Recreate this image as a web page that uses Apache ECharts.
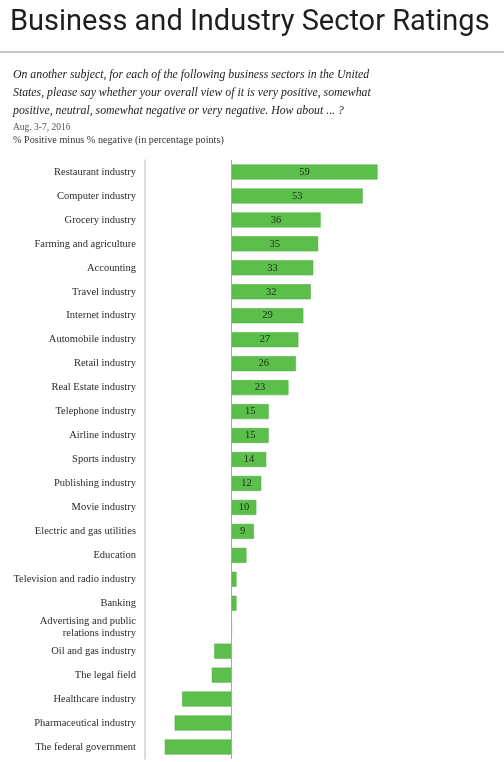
<!DOCTYPE html>
<html>
<head>
<meta charset="utf-8">
<script src="https://cdn.jsdelivr.net/npm/echarts@6/dist/echarts.min.js"></script>
<style>
  html, body { margin: 0; padding: 0; background: #fff; }
  #chart { width: 504px; height: 762px; }
</style>
</head>
<body>
<div id="chart"></div>
<script>
// Sector names, top to bottom as in the picture
const sectors = [
    'Restaurant industry', 'Computer industry', 'Grocery industry', 'Farming and agriculture',
    'Accounting', 'Travel industry', 'Internet industry', 'Automobile industry',
    'Retail industry', 'Real Estate industry', 'Telephone industry', 'Airline industry',
    'Sports industry', 'Publishing industry', 'Movie industry', 'Electric and gas utilities',
    'Education', 'Television and radio industry', 'Banking',
    'Advertising and public\nrelations industry', 'Oil and gas industry', 'The legal field',
    'Healthcare industry', 'Pharmaceutical industry', 'The federal government'
];

// % positive minus % negative
const netRatings = [
    59, 53, 36, 35, 33, 32, 29, 27, 26, 23, 15, 15, 14, 12, 10, 9,
    6, 2, 2, 0, -7, -8, -20, -23, -27
];

const questionLines = [
    'On another subject, for each of the following business sectors in the United',
    'States, please say whether your overall view of it is very positive, somewhat',
    'positive, neutral, somewhat negative or very negative. How about ... ?'
];

const serif = '"Liberation Serif", "DejaVu Serif", serif';

const chart = echarts.init(document.getElementById('chart'));

const option = {
    backgroundColor: '#fff',
    animation: false,
    title: [
        {
            text: 'Business and Industry Sector Ratings',
            left: 5,
            top: 3,
            textStyle: {
                fontFamily: 'Roboto, "Open Sans", sans-serif',
                fontWeight: 'normal',
                fontSize: 29,
                color: '#1e1e1e'
            }
        },
        {
            text: questionLines.join('\n'),
            left: 8,
            top: 61,
            textStyle: {
                fontFamily: serif,
                fontStyle: 'italic',
                fontWeight: 'normal',
                fontSize: 11.8,
                lineHeight: 18,
                color: '#222'
            }
        },
        {
            text: 'Aug. 3-7, 2016',
            left: 8,
            top: 117,
            textStyle: {
                fontFamily: serif,
                fontWeight: 'normal',
                fontSize: 9.5,
                color: '#555'
            }
        },
        {
            text: '% Positive minus % negative (in percentage points)',
            left: 8,
            top: 130,
            textStyle: {
                fontFamily: serif,
                fontWeight: 'normal',
                fontSize: 10.2,
                color: '#333'
            }
        }
    ],
    graphic: [
        {
            type: 'line',
            shape: { x1: 0, y1: 52, x2: 504, y2: 52 },
            style: { stroke: '#b5b5b5', lineWidth: 1.5 }
        }
    ],
    grid: {
        left: 145,
        right: 124,
        top: 160,
        bottom: 3
    },
    xAxis: {
        type: 'value',
        min: -35,
        max: 60,
        show: false
    },
    yAxis: {
        type: 'category',
        data: sectors,
        inverse: true,
        axisLine: {
            onZero: false,
            lineStyle: { color: '#cfcfcf', width: 1.5 }
        },
        axisTick: { show: false },
        axisLabel: {
            margin: 9,
            fontFamily: serif,
            fontSize: 10.5,
            lineHeight: 12,
            color: '#2a2a2a'
        }
    },
    series: [{
        type: 'bar',
        data: netRatings,
        barWidth: 15,
        itemStyle: {
            color: '#5cbf4b',
            borderColor: '#49a83b',
            borderWidth: 0.5
        },
        label: {
            show: true,
            position: 'inside',
            fontFamily: serif,
            fontSize: 10.5,
            color: '#1c2e1a',
            formatter: p => (p.value >= 9 ? p.value : '')
        },
        markLine: {
            silent: true,
            symbol: 'none',
            label: { show: false },
            lineStyle: { color: '#a8a8a8', width: 1, type: 'solid' },
            data: [{ xAxis: 0 }]
        }
    }]
};

chart.setOption(option);
</script>
</body>
</html>
